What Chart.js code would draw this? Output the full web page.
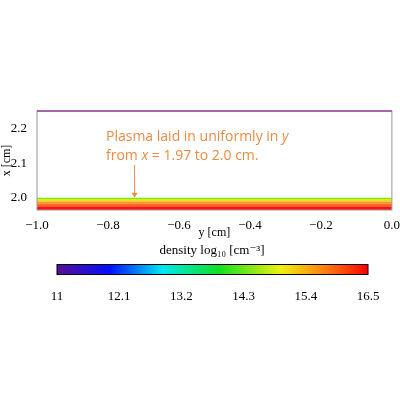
<!DOCTYPE html>
<html>
<head>
<script src="https://cdn.jsdelivr.net/npm/chart.js@4"></script>
<style>
  body { margin:0; background:#fff; }
  #wrap { position:relative; width:400px; height:400px; }
  canvas { position:absolute; left:0; }
</style>
</head>
<body>
<div id="wrap">
  <canvas id="mainChart" width="400" height="240" style="top:0"></canvas>
  <canvas id="barChart" width="400" height="75" style="top:240px"></canvas>
</div>
<script>
// layer boundaries in x [cm] (bottom to top) and their colours
const layerTops = [1.974, 1.979, 1.984, 1.989, 1.993, 1.997, 2.0];
const layerColors = ["#ff1010", "#ff3a10", "#ff6a10", "#ff9a10", "#ffc010", "#d8ef10", "#70f010"];
const yRange = [-1.0, 0.0];
const xTicks = [2.0, 2.1, 2.2];
const yTickVals = [-1.0, -0.8, -0.6, -0.4, -0.2, 0.0];
const cbarTicks = [11, 12.1, 13.2, 14.3, 15.4, 16.5];

const serif = "'Liberation Serif', 'DejaVu Serif', serif";

const datasets = layerTops.map((top, i) => ({
  data: yRange.map(y => ({ x: y, y: top })),
  borderWidth: 0,
  pointRadius: 0,
  backgroundColor: layerColors[i],
  fill: i === 0 ? "origin" : "-1"
}));

const notePlugin = {
  id: "note",
  afterDraw(chart) {
    const { ctx, scales } = chart;
    const reg = "14px 'Open Sans', sans-serif", it = "italic 14px 'Open Sans', sans-serif";
    ctx.save();
    ctx.fillStyle = "#f08a40";
    ctx.font = reg;
    ctx.fillText("Plasma laid in uniformly in ", 106, 141);
    let w = ctx.measureText("Plasma laid in uniformly in ").width;
    ctx.font = it;
    ctx.fillText("y", 106 + w, 141);
    ctx.font = reg;
    ctx.fillText("from ", 106, 160);
    w = ctx.measureText("from ").width;
    ctx.font = it;
    ctx.fillText("x", 106 + w, 160);
    const w2 = ctx.measureText("x").width;
    ctx.font = reg;
    ctx.fillText(" = 1.97 to 2.0 cm.", 106 + w + w2, 160);
    // arrow
    const ax = scales.x.getPixelForValue(-0.725);
    const y0 = 165, y1 = scales.y.getPixelForValue(2.0);
    ctx.strokeStyle = "#f08a40";
    ctx.lineWidth = 1;
    ctx.beginPath(); ctx.moveTo(ax, y0); ctx.lineTo(ax, y1 - 2); ctx.stroke();
    ctx.beginPath(); ctx.moveTo(ax - 3, y1 - 5); ctx.lineTo(ax + 3, y1 - 5); ctx.lineTo(ax, y1); ctx.fill();
    // frame
    const a = chart.chartArea;
    ctx.strokeStyle = "#999";
    ctx.strokeRect(a.left, a.top, a.right - a.left, a.bottom - a.top);
    ctx.strokeStyle = "#9b3fa0";
    ctx.lineWidth = 1.5;
    ctx.beginPath(); ctx.moveTo(a.left, a.top); ctx.lineTo(a.right, a.top); ctx.stroke();
    ctx.restore();
  }
};

new Chart(document.getElementById("mainChart"), {
  type: "line",
  data: { datasets },
  options: {
    responsive: false,
    animation: false,
    layout: { padding: { top: 111, right: 8 } },
    plugins: { legend: { display: false }, tooltip: { enabled: false } },
    scales: {
      x: {
        type: "linear", min: -1, max: 0,
        afterBuildTicks: s => { s.ticks = yTickVals.map(v => ({ value: v })); },
        afterFit: s => { s.height = 30; },
        grid: { display: false },
        border: { display: false },
        ticks: { color: "#000", font: { family: serif, size: 13 }, padding: 0,
          callback: v => v.toFixed(1).replace("-", "\u2212") },
        title: { display: true, text: "y [cm]", color: "#000", padding: 0,
          font: { family: serif, size: 12 } }
      },
      y: {
        min: 1.965, max: 2.25,
        afterBuildTicks: s => { s.ticks = xTicks.map(v => ({ value: v })); },
        afterFit: s => { s.width = 37; },
        grid: { display: false },
        border: { display: false },
        ticks: { color: "#000", font: { family: serif, size: 13 }, padding: 2,
          callback: v => v.toFixed(1) },
        title: { display: true, text: "x [cm]", color: "#000", padding: 0,
          font: { family: serif, size: 12 } }
      }
    }
  },
  plugins: [notePlugin]
});

const cbarTitle = {
  id: "cbarTitle",
  afterDraw(chart) {
    const { ctx } = chart;
    ctx.save();
    ctx.fillStyle = "#000";
    ctx.textAlign = "center";
    ctx.font = "13px " + serif;
    ctx.fillText("density log\u2081\u2080 [cm\u207B\u00B3]", 212, 14);
    const a = chart.chartArea;
    const b = chart.getDatasetMeta(0).data[0];
    ctx.strokeStyle = "#000";
    ctx.strokeRect(a.left, b.y - 5, a.right - a.left, 10);
    ctx.restore();
  }
};

new Chart(document.getElementById("barChart"), {
  type: "bar",
  data: {
    labels: [""],
    datasets: [{
      data: [[cbarTicks[0], cbarTicks[cbarTicks.length - 1]]],
      barThickness: 10,
      backgroundColor: ctx => {
        const a = ctx.chart.chartArea;
        if (!a) return "#888";
        const g = ctx.chart.ctx.createLinearGradient(a.left, 0, a.right, 0);
        g.addColorStop(0, "#5a1090");
        g.addColorStop(0.17, "#0010ff");
        g.addColorStop(0.34, "#00e8f0");
        g.addColorStop(0.52, "#10e020");
        g.addColorStop(0.72, "#f0f010");
        g.addColorStop(0.86, "#ff8010");
        g.addColorStop(1, "#ff0000");
        return g;
      }
    }]
  },
  options: {
    indexAxis: "y",
    responsive: false,
    animation: false,
    layout: { padding: { left: 57, right: 32, top: 20 } },
    plugins: { legend: { display: false }, tooltip: { enabled: false } },
    scales: {
      x: {
        min: 11, max: 16.5,
        afterBuildTicks: s => { s.ticks = cbarTicks.map(v => ({ value: v })); },
        afterFit: s => { s.height = 36; },
        grid: { display: false },
        border: { display: false },
        ticks: { color: "#000", font: { family: serif, size: 13 }, padding: 2,
          callback: v => String(v) }
      },
      y: { display: false }
    }
  },
  plugins: [cbarTitle]
});
</script>
</body>
</html>
